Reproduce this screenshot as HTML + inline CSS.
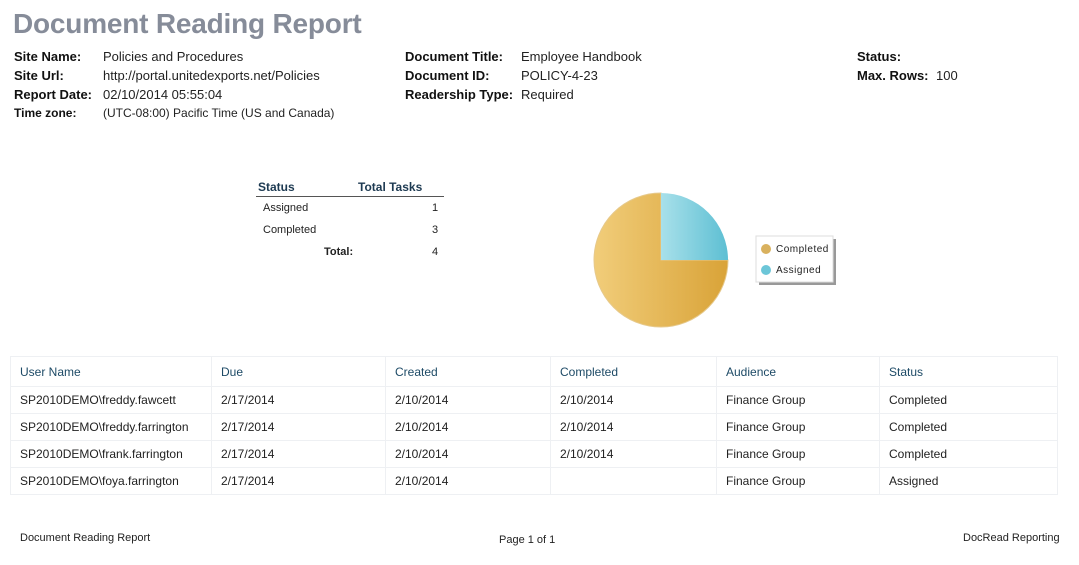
<!DOCTYPE html>
<html><head><style>
body{margin:0;width:1079px;height:565px;background:#fff;font-family:"Liberation Sans",sans-serif;position:relative;overflow:hidden;color:#222}
div,span{position:absolute;white-space:nowrap}
.t{font-size:28px;font-weight:bold;color:#868c99;left:13px;top:8px;letter-spacing:-0.2px}
.b{font-weight:bold;font-size:13px;color:#111}
.n{font-size:13px;color:#222}
.s{font-size:11px;color:#222}
table{position:absolute;left:10px;top:356px;border-collapse:collapse;width:1048px;font-size:12px;color:#222;table-layout:fixed}
td{border:1px solid #eef0f3;height:27px;padding:0 0 0 9px;box-sizing:border-box;white-space:nowrap;overflow:hidden}
tr:first-child td{color:#1d4a66;height:30px}
</style></head><body>
<div class="t">Document Reading Report</div>
<div class="b" style="left:14px;top:49px">Site Name:</div><div class="n" style="left:103px;top:49px">Policies and Procedures</div>
<div class="b" style="left:14px;top:68px">Site Url:</div><div class="n" style="left:103px;top:68px">http://portal.unitedexports.net/Policies</div>
<div class="b" style="left:14px;top:87px">Report Date:</div><div class="n" style="left:103px;top:87px">02/10/2014 05:55:04</div>
<div class="b" style="left:14px;top:106px;font-size:12px">Time zone:</div><div class="n" style="left:103px;top:106px;font-size:12px">(UTC-08:00) Pacific Time (US and Canada)</div>
<div class="b" style="left:405px;top:49px">Document Title:</div><div class="n" style="left:521px;top:49px">Employee Handbook</div>
<div class="b" style="left:405px;top:68px">Document ID:</div><div class="n" style="left:521px;top:68px">POLICY-4-23</div>
<div class="b" style="left:405px;top:87px">Readership Type:</div><div class="n" style="left:521px;top:87px">Required</div>
<div class="b" style="left:857px;top:49px">Status:</div>
<div class="b" style="left:857px;top:68px">Max. Rows:</div><div class="n" style="left:936px;top:68px">100</div>

<div class="b" style="left:258px;top:180px;font-size:12px;color:#1d3a52">Status</div>
<div class="b" style="left:358px;top:180px;font-size:12px;color:#1d3a52">Total Tasks</div>
<div style="left:256px;top:196px;width:188px;height:1px;background:#555"></div>
<div class="s" style="left:263px;top:202px">Assigned</div><div class="s" style="left:432px;top:202px">1</div>
<div class="s" style="left:263px;top:224px">Completed</div><div class="s" style="left:432px;top:224px">3</div>
<div class="s" style="left:324px;top:246px;font-weight:bold">Total:</div><div class="s" style="left:432px;top:246px">4</div>

<svg style="position:absolute;left:0;top:0" width="1079" height="565">
<defs>
<linearGradient id="g1" x1="0" x2="1"><stop offset="0" stop-color="#f1cd7a"/><stop offset="1" stop-color="#d9a338"/></linearGradient>
<linearGradient id="g2" x1="0" x2="1"><stop offset="0" stop-color="#a8e0ea"/><stop offset="1" stop-color="#5dbfd3"/></linearGradient>
</defs>
<path d="M661,260 L728,260 A67,67 0 1 1 661,193 Z" fill="url(#g1)" stroke="#e6c98c" stroke-width="1"/>
<path d="M661,260 L661,193 A67,67 0 0 1 728,260 Z" fill="url(#g2)"/>
<rect x="759" y="239" width="77" height="46" fill="#999"/>
<rect x="756" y="236" width="77" height="46" fill="#fff" stroke="#ddd"/>
<circle cx="766" cy="249" r="5" fill="#d9b15e"/>
<circle cx="766" cy="270" r="5" fill="#6cc6d8"/>
<text x="776" y="252" font-size="10" font-family="Liberation Sans" letter-spacing="0.5" fill="#222">Completed</text>
<text x="776" y="273" font-size="10" font-family="Liberation Sans" letter-spacing="0.5" fill="#222">Assigned</text>
</svg>

<table>
<colgroup><col style="width:201px"><col style="width:174px"><col style="width:165px"><col style="width:166px"><col style="width:163px"><col></colgroup>
<tr><td>User Name</td><td>Due</td><td>Created</td><td>Completed</td><td>Audience</td><td>Status</td></tr>
<tr><td>SP2010DEMO\freddy.fawcett</td><td>2/17/2014</td><td>2/10/2014</td><td>2/10/2014</td><td>Finance Group</td><td>Completed</td></tr>
<tr><td>SP2010DEMO\freddy.farrington</td><td>2/17/2014</td><td>2/10/2014</td><td>2/10/2014</td><td>Finance Group</td><td>Completed</td></tr>
<tr><td>SP2010DEMO\frank.farrington</td><td>2/17/2014</td><td>2/10/2014</td><td>2/10/2014</td><td>Finance Group</td><td>Completed</td></tr>
<tr><td>SP2010DEMO\foya.farrington</td><td>2/17/2014</td><td>2/10/2014</td><td></td><td>Finance Group</td><td>Assigned</td></tr>
</table>

<div class="s" style="left:20px;top:532px">Document Reading Report</div>
<div class="s" style="left:499px;top:534px">Page 1 of 1</div>
<div class="s" style="left:963px;top:532px">DocRead Reporting</div>
</body></html>
